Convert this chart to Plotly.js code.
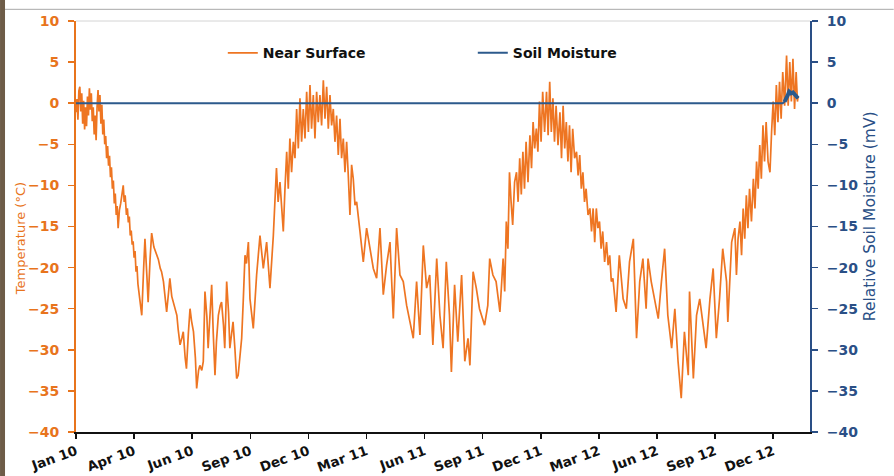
<!DOCTYPE html>
<html>
<head>
<meta charset="utf-8">
<script src="https://cdn.plot.ly/plotly-3.0.1.min.js"></script>
<style>
html,body{margin:0;padding:0;background:#fff;}
#chart{width:894px;height:476px;}
</style>
</head>
<body>
<div id="chart"></div>
<script>
// Day index from start of record (axis tick spacing = 91 days)
const tempDays = [
 0,1.5,3,4.5,6,7.5,9,10.5,12,13.5,15,16.5,18,19.5,21,22.5,24,25.5,27,28.5,30,31.5,33,34.5,36,37.5,39,40.5,42,43.5,45,
 46.5,48,49.5,51,52.5,54,55.5,57,58.5,60,61.5,63,64.5,66,68,70,72,74,75.5,77,79,80.5,82,83.5,85,86.5,88,89.5,91,92.5,94,95.5,97,99,101,103,
 106,108,111,113,116,118.5,122,126,129,132,134,137,140,142,145,147,150,152.5,155,158,160,163,166,168,171,173,176,178.6,181,184,187,189,192,194,197,199.4,202,205,207,210,212.5,215,217.7,220,223,226,228,231,233,236,239,241,244,246,249,251.6,254,257,259.5,262,264.7,267,270,
 272.5,277.7,282.9,288.2,293.4,298.6,303.8,309.1,
 314,316.6,319.5,322,324.7,327.3,330,332.5,335,337.7,340.4,343,345.6,348.2,350.8,353.4,356,358.7,361.3,364,366.5,369,371.7,374.3,376.9,379.5,382.1,384.7,387.4,390,392.6,395.2,397.8,400.4,403,405.6,408.2,410.8,413.5,416,418.7,421.3,423.9,426.5,429.1,431.7,434.3,437,439.6,
 444.8,450,455.2,460.4,465.7,470.9,476.1,481.3,486.5,491.8,497,502.2,507.4,512.6,517.9,523.1,528.3,533.5,538.7,544,549.2,554,559,565,570,575,580,585,588,593,598,604,609,614,617,622,627,632,640,645,648,653,658,664,
 669,671.5,674,676.5,679,681.5,684,687,690,692.5,695,697.5,700,702.5,705,708,711,713.5,716,718.5,721,723.5,726,728.5,731,734,737,739.5,742,744.5,747,749.5,752,755,758,760.5,763,765.5,768,770.5,773,775.5,778,781,784,786.5,789,791.5,794,796.5,799,802,805,807.5,810,812.5,815,817.5,820,822.5,825,828,831,833.5,836,838.5,841,843.5,846,851,
 857,862,867,873,878,883,888,893,896,901,907,912,917,922,927,933,938,943,948,953,959,961,967,972,977,982,987,993,998,1003,1008,1013,1019,1021,
 1027,1032,1034.5,1037,1040,1042.5,1045,1047.5,1050,1052.5,1055,1058,1061,1063.5,1066,1068.5,1071,1073.5,1076,1078.5,1081,1084,1087,1089.5,1092,1094.5,1097,1099.5,1102,1104.5,1107,1110,1113,1115.5,1118,1120.5,1123,1125.5,1128,1130,1131
];
const nearSurface = [
 -1.1,0.5,-2.0,1.5,2.0,-1.0,1.2,-2.5,0.3,-3.2,-0.5,-2.8,0.8,-1.5,1.8,-0.8,1.2,-2.2,-0.5,-3.8,-1.5,-4.5,-0.5,1.6,-1.0,1.0,-2.5,-0.2,-3.8,-2.0,-5.0,
 -4.0,-6.7,-5.2,-7.6,-6.4,-9.0,-7.8,-10.4,-9.4,-12.2,-11.0,-13.6,-12.5,-15.2,-13.0,-12.2,-10.8,-10.0,-12.0,-11.2,-13.6,-12.8,-14.5,-13.8,-16.1,-15.5,-17.2,-16.8,-18.8,-18.0,-20.5,-19.8,-22.0,-23.5,-24.8,-25.8,
 -20,-16.5,-21,-24.2,-19,-15.8,-17.5,-18.5,-19.0,-20.1,-20.5,-21.7,-24.2,-25.4,-23,-21.3,-23.5,-24.2,-25,-25.8,-27.5,-29.4,-28.5,-27.8,-31,-32.3,-28,-25,-26.5,-27.8,-31,-34.7,-32.5,-31.9,-32.5,-31.4,-22.9,-26,-29.8,-26,-22.1,-28,-33.1,-29,-25.8,-24.6,-24.2,-27,-29.8,-21.7,-25.5,-29.8,-27.5,-26.6,-30,-33.5,-33.1,-31,-28.6,-24,-18.5,-19.5,-16.9,
 -23.8,-27.4,-20.9,-16.1,-20.1,-16.9,-22.5,-16.1,
 -7.9,-12.0,-9.6,-12.8,-15.6,-10.4,-5.9,-10.4,-4.3,-8.4,-4.7,-6.7,-0.7,-5.5,0.6,-4.7,-0.7,-4.3,1.4,-3.5,2.2,-3.1,1.0,-4.3,1.4,-2.3,1.0,-2.7,2.8,-1.9,2.0,-3.1,1.0,-2.7,-0.7,-4.7,-1.5,-6.3,-1.9,-6.7,-4.3,-8.4,-4.7,-8.8,-13.6,-7.5,-9.2,-12.4,-12.0,
 -15.6,-19.3,-15.2,-17.7,-20.1,-21.3,-15.2,-23.3,-19.7,-16.9,-26.2,-15.2,-20.9,-21.7,-24.6,-26.6,-28.6,-21.7,-28.2,-17.3,-22.5,-20.9,-29.4,-18.9,-25.8,-29.8,-19.3,-25.8,-32.7,-22.1,-29.0,-20.9,-31.4,-28.6,-31.9,-20.5,-22.5,-25.0,-27.0,-24.6,-18.9,-20.9,-21.7,-25.4,
 -18.9,-22.9,-14.4,-17.7,-8.4,-12.0,-14.8,-9.6,-8.4,-12.0,-6.7,-11.1,-5.9,-10.4,-4.7,-9.6,-3.9,-7.9,-2.3,-5.5,-3.1,-5.9,0.2,-4.7,1.4,-3.5,1.4,-3.9,2.6,-3.5,0.6,-4.7,-0.3,-5.1,-1.1,-6.7,-0.3,-5.5,-2.3,-7.1,-2.7,-8.4,-3.1,-6.7,-5.9,-8.8,-6.3,-10.4,-8.4,-12.0,-10.4,-13.6,-12.8,-15.6,-12.8,-16.9,-12.8,-15.2,-14.4,-17.7,-15.6,-19.3,-16.9,-19.7,-18.5,-21.7,-21.3,-23.3,-25.4,-18.5,
 -23.8,-25.0,-19.3,-16.5,-28.6,-21.7,-18.9,-25.0,-18.9,-21.7,-24.2,-26.2,-21.7,-17.7,-25.8,-29.8,-25.0,-31.4,-35.9,-27.8,-33.1,-22.9,-33.5,-25.8,-23.8,-27.0,-29.8,-23.8,-20.1,-28.6,-23.8,-17.7,-21.7,-26.6,
 -16.9,-15.2,-20.9,-16.5,-14.4,-18.5,-12.8,-16.5,-11.2,-15.2,-10.4,-14.4,-9.2,-12.8,-7.1,-10.4,-5.1,-9.2,-2.7,-7.1,-2.3,-7.1,-8.4,-3.5,0.2,-3.9,2.2,-2.3,2.6,-1.9,3.8,-0.3,5.8,-0.3,5.0,0.2,5.4,-0.7,3.8,0.2,0.8
];

const soilDays = [0,1107,1110,1113,1115,1117,1120,1123,1126,1129,1131];
const soilMoisture = [0,0,0.2,0.6,1.0,1.4,1.2,1.3,1.0,0.8,0.6];

const tickDays = [0,91,182,273,364,455,546,637,728,819,910,1001,1092];
const tickLabels = ['Jan 10','Apr 10','Jun 10','Sep 10','Dec 10','Mar 11','Jun 11','Sep 11','Dec 11','Mar 12','Jun 12','Sep 12','Dec 12'];

const ORANGE = '#EE7522';
const AXIS_ORANGE = '#E8741C';
const BLUE = '#2C5A8C';
const AXIS_BLUE = '#2A4F86';
const FONT = 'DejaVu Sans, Verdana, sans-serif';

const traces = [
  {x: tempDays, y: nearSurface, type: 'scatter', mode: 'lines', name: 'Near Surface',
   line: {color: ORANGE, width: 1.7}, yaxis: 'y'},
  {x: soilDays, y: soilMoisture, type: 'scatter', mode: 'lines', name: 'Soil Moisture',
   line: {color: BLUE, width: 2}, yaxis: 'y2'},
  {x: soilDays.slice(2), y: soilMoisture.slice(2), type: 'scatter', mode: 'lines', showlegend: false,
   line: {color: BLUE, width: 4}, yaxis: 'y2', hoverinfo: 'skip'}
];

const layout = {
  width: 894, height: 476,
  margin: {l: 76, r: 84, t: 21, b: 44},
  paper_bgcolor: '#ffffff', plot_bgcolor: '#ffffff',
  font: {family: FONT, size: 14},
  showlegend: true,
  legend: {orientation: 'h', x: 0.2, xanchor: 'left', y: 0.9215, yanchor: 'middle',
           entrywidth: 205, entrywidthmode: 'pixels',
           font: {family: FONT, size: 14, weight: 700, color: '#111'}, bgcolor: 'rgba(0,0,0,0)'},
  xaxis: {range: [0, 1149.7], tickvals: tickDays, ticktext: tickLabels, tickangle: -20,
          showgrid: false, zeroline: false, showline: true, linecolor: '#111', linewidth: 1.5,
          ticks: 'outside', ticklen: 5, tickwidth: 1.5, tickcolor: '#111',
          tickfont: {family: FONT, size: 13.5, weight: 700, color: '#111'}},
  yaxis: {range: [-40, 10], dtick: 5, tick0: 0, showgrid: false, zeroline: false,
          showline: true, linecolor: AXIS_ORANGE, linewidth: 2,
          ticks: 'outside', ticklen: 6, tickwidth: 1.5, tickcolor: AXIS_ORANGE,
          ticklabelstandoff: 6,
          tickfont: {family: FONT, size: 14, weight: 700, color: AXIS_ORANGE}},
  yaxis2: {range: [-40, 10], dtick: 5, tick0: 0, overlaying: 'y', side: 'right',
           showgrid: false, zeroline: false, showline: true, linecolor: AXIS_BLUE, linewidth: 2,
           ticks: 'outside', ticklen: 6, tickwidth: 1.5, tickcolor: AXIS_BLUE,
           ticklabelstandoff: 6,
           tickfont: {family: FONT, size: 14, weight: 700, color: AXIS_BLUE}},
  annotations: [
    {text: 'Temperature (°C)', xref: 'paper', yref: 'paper', x: -0.0763, y: 0.4717,
     textangle: -90, showarrow: false, xanchor: 'center', yanchor: 'middle',
     font: {family: FONT, size: 13, color: AXIS_ORANGE}},
    {text: 'Relative Soil Moisture (mV)', xref: 'paper', yref: 'paper', x: 1.0817, y: 0.525,
     textangle: -90, showarrow: false, xanchor: 'center', yanchor: 'middle',
     font: {family: FONT, size: 15.5, color: AXIS_BLUE}}
  ],
  shapes: [
    {type: 'line', xref: 'paper', yref: 'paper', x0: 0, x1: 1, y0: 1, y1: 1,
     line: {color: '#d4d4d4', width: 1}},
    {type: 'line', xref: 'paper', yref: 'paper', x0: -0.0967, x1: 1.114, y0: 1.0284, y1: 1.0284,
     line: {color: '#a8a8a8', width: 1}},
    {type: 'rect', xref: 'paper', yref: 'paper', x0: -0.1035, x1: -0.0967, y0: -0.11, y1: 1.06,
     fillcolor: '#6e5c48', line: {width: 0}}
  ]
};

Plotly.newPlot('chart', traces, layout, {displayModeBar: false, staticPlot: true});
</script>
</body>
</html>
